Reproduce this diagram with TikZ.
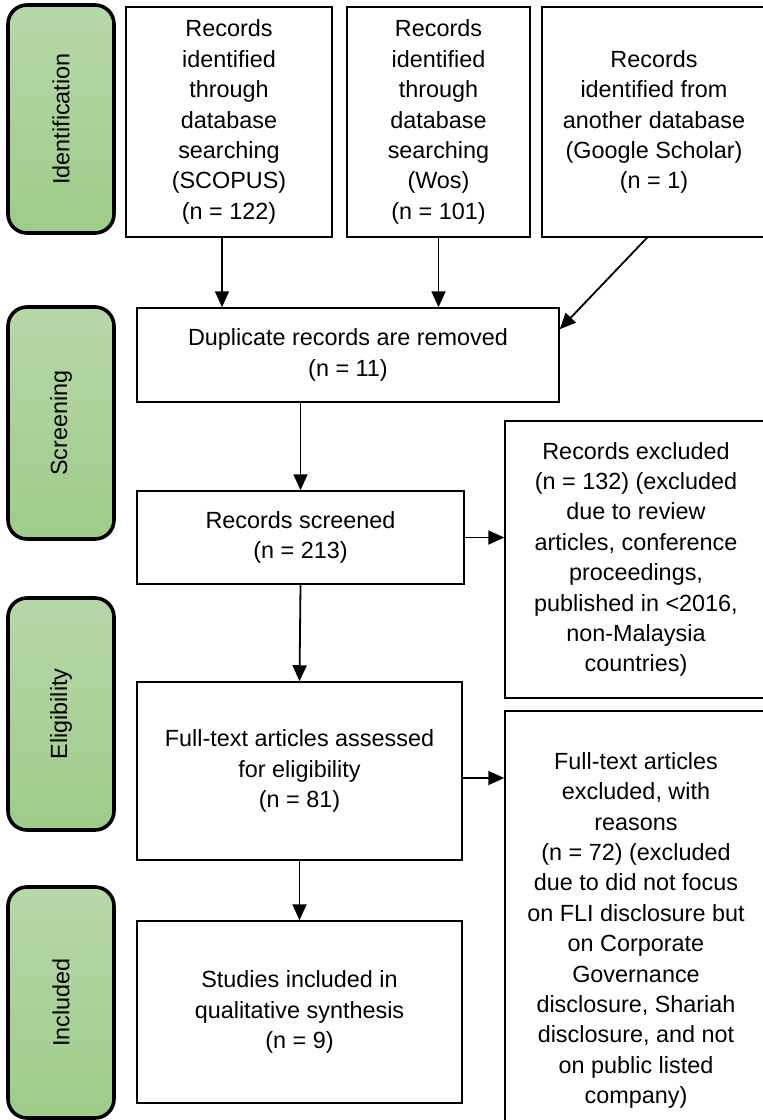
\documentclass[tikz,border=0pt]{standalone}
\usepackage{fontspec}
\setmainfont{Liberation Sans}
\usetikzlibrary{arrows.meta,calc}
\definecolor{stagetop}{RGB}{183,215,168}
\definecolor{stagebot}{RGB}{158,204,137}

\begin{document}
\begin{tikzpicture}[x=0.5pt,y=-0.5pt,
stage/.style={draw,line width=1.8pt,rounded corners=9.5pt,top color=stagetop,bottom color=stagebot,minimum width=53pt,inner sep=0pt,font=\fontsize{11.7}{15.2}\selectfont},
box/.style={draw,line width=0.75pt,align=center,inner sep=0pt,font=\fontsize{11.7}{15.2}\selectfont},
arr/.style={-{Triangle[length=8pt,width=7pt]},line width=0.9pt}]
\useasboundingbox (0,0) rectangle (763,1120);
% stages
\node[stage,minimum height=114pt] (ident) at (61,119) {\rotatebox{90}{Identification}};
\node[stage,minimum height=116pt] (screen) at (61,423) {\rotatebox{90}{Screening}};
\node[stage,minimum height=116pt] (elig) at (61,714) {\rotatebox{90}{Eligibility}};
\node[stage,minimum height=115.5pt] (incl) at (61,1002.5) {\rotatebox{90}{Included}};
% records
\node[box,minimum width=103pt,minimum height=115pt] (scopus) at (229,122) {Records\\identified\\through\\database\\searching\\(SCOPUS)\\(n = 122)};
\node[box,minimum width=91.5pt,minimum height=115pt] (wos) at (438.5,122) {Records\\identified\\through\\database\\searching\\(Wos)\\(n = 101)};
\node[box,minimum width=112pt,minimum height=115pt] (scholar) at (654,122) {Records\\identified from\\another database\\(Google Scholar)\\(n = 1)};
\node[box,minimum width=211pt,minimum height=47pt] (dup) at (348,355) {Duplicate records are removed\\(n = 11)};
\node[box,minimum width=163.5pt,minimum height=46.5pt] (screened) at (300.5,537.5) {Records screened\\(n = 213)};
\node[box,minimum width=131pt,minimum height=138.5pt] (excl) at (636,559.5) {Records excluded\\(n = 132) (excluded\\due to review\\articles, conference\\proceedings,\\published in <2016,\\non-Malaysia\\countries)};
\node[box,minimum width=162.5pt,minimum height=89pt] (full) at (299.5,771) {Full-text articles assessed\\for eligibility\\(n = 81)};
\node[box,minimum width=131pt,minimum height=219.5pt] (fullexcl) at (636,930.5) {Full-text articles\\excluded, with\\reasons\\(n = 72) (excluded\\due to did not focus\\on FLI disclosure but\\on Corporate\\Governance\\disclosure, Shariah\\disclosure, and not\\on public listed\\company)};
\node[box,minimum width=162.5pt,minimum height=91pt] (studies) at (299.5,1012) {Studies included in\\qualitative synthesis\\(n = 9)};
% arrows
\draw[arr] ($(scopus.south)+(-7,0)$) -- ($(scopus.south |- dup.north)+(-7,0)$);
\draw[arr] (wos.south) -- (wos.south |- dup.north);
\draw[arr] ($(scholar.south)+(-7,0)$) -- ($(dup.north east)!0.23!(dup.south east)$);
\draw[arr] (screened.north |- dup.south) -- (screened.north);
\draw[arr] (screened.east) -- (screened.east -| excl.west);
\draw[arr] (screened.south) -- (full.north);
\draw[arr] ($(full.east)+(0,7)$) -- ($(full.east -| fullexcl.west)+(0,7)$);
\draw[arr] (full.south) -- (studies.north);
\end{tikzpicture}
\end{document}
